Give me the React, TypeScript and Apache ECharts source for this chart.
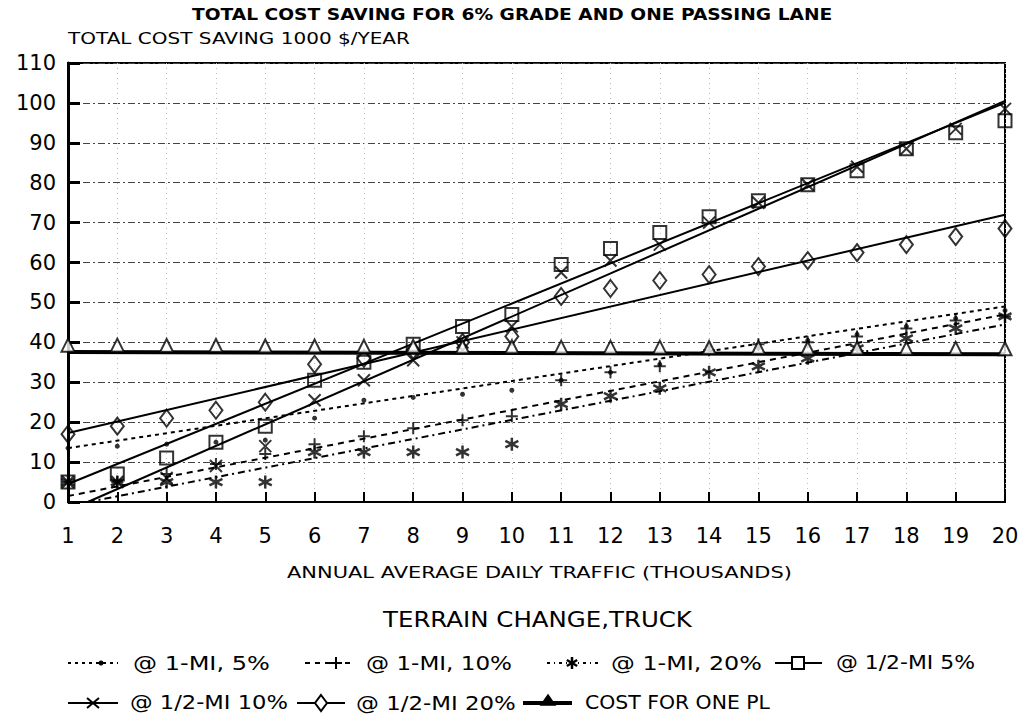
import React, { useEffect, useRef } from "react";
import * as echarts from "echarts";

// Annual average daily traffic, thousands
const trafficThousands = [1, 2, 3, 4, 5, 6, 7, 8, 9, 10, 11, 12, 13, 14, 15, 16, 17, 18, 19, 20];
const xTickLabels = ["1", "2", "3", "4", "5", "6", "7", "8", "9", "10", "11", "12", "13", "14", "15", "16", "17", "18", "19", "20"];
const yTickLabels = ["0", "10", "20", "30", "40", "50", "60", "70", "80", "90", "100", "110"];

// Total cost saving, 1000 $/year, per terrain-change case
const saving1Mi5 = [13.5, 14, 14.5, 15, 15.5, 21, 25.5, 26.2, 27, 28, 30.5, 32.5, 34.5, 39, 38.5, 40.5, 42, 44, 46, 48];
const saving1Mi10 = [5, 5, 7, 9.5, 12, 14.5, 16.5, 18.5, 20.5, 21.5, 30.5, 32.5, 34, 38, 39.5, 40, 41.5, 43.5, 45.5, 46.5];
const saving1Mi20 = [5, 5, 5, 5, 5, 12.5, 12.5, 12.5, 12.5, 14.5, 24.5, 26.5, 28.5, 32.5, 34, 36, 38.5, 41, 43.5, 46.5];
const savingHalf5 = [5, 7, 11, 15, 19, 30.5, 35, 39.5, 44, 47, 59.5, 63.5, 67.5, 71.5, 75.5, 79.5, 83, 88.5, 92.5, 95.5];
const savingHalf10 = [5, 5, 6, 9, 14, 25.5, 30.5, 35.5, 40, 44, 57.5, 60.5, 64.5, 70, 75, 79.5, 84, 88.5, 93.5, 98.5];
const savingHalf20 = [17, 19, 21, 23, 25, 34.5, 36, 38, 40, 41.5, 51.5, 53.5, 55.5, 57, 59, 60.5, 62.5, 64.5, 66.5, 68.5];
const costOnePL = [37.8, 37.8, 37.7, 37.7, 37.6, 37.6, 37.5, 37.5, 37.4, 37.4, 37.3, 37.3, 37.3, 37.2, 37.2, 37.1, 37.1, 37.0, 37.0, 36.9];

// Fitted trend lines, [traffic, saving] end points
const trend1Mi5 = [[1, 13.5], [20, 49]];
const trend1Mi10 = [[1, 1.5], [20, 47]];
const trend1Mi20 = [[1.4, 0], [20, 44.5]];
const trendHalf5 = [[1, 4.5], [20, 100]];
const trendHalf10 = [[1.4, 0], [20, 100.5]];
const trendHalf20 = [[1, 17.3], [20, 72]];
const trendCost = [[1, 37.6], [20, 37]];

const seriesNames = ["@ 1-MI, 5%", "@ 1-MI, 10%", "@ 1-MI, 20%", "@ 1/2-MI 5%", "@ 1/2-MI 10%", "@ 1/2-MI 20%", "COST FOR ONE PL"];

const titleText = "TOTAL COST SAVING FOR 6% GRADE AND ONE PASSING LANE";
const yAxisTitle = "TOTAL COST SAVING 1000 $/YEAR";
const xAxisTitle = "ANNUAL AVERAGE DAILY TRAFFIC (THOUSANDS)";
const legendTitle = "TERRAIN CHANGE,TRUCK";

const FONT = '"DejaVu Sans", "Liberation Sans", sans-serif';

const SYM_PLUS = "path://M5 0L5 10M0 5L10 5";
const SYM_CROSS = "path://M0 0L10 10M10 0L0 10";
const SYM_STAR = "path://M5 0L5 10M0.67 2.5L9.33 7.5M0.67 7.5L9.33 2.5";

function textScale(text: string, size: number, weight: string, width: number) {
  const ctx = document.createElement("canvas").getContext("2d");
  if (!ctx) return 1;
  ctx.font = `${weight} ${size}px "DejaVu Sans"`;
  const w = ctx.measureText(text).width;
  return w > 0 ? width / w : 1;
}

function stretchedText(text: string, left: number, width: number, cy: number, size: number, weight = "normal") {
  return {
    type: "text",
    x: left,
    y: cy,
    scaleX: textScale(text, size, weight, width),
    silent: true,
    style: {
      text,
      fontSize: size,
      fontFamily: FONT,
      fontWeight: weight,
      fill: "#000",
      textAlign: "left",
      verticalAlign: "middle",
      textVerticalAlign: "middle",
    },
  };
}

function seg(x1: number, y1: number, x2: number, y2: number, w = 2) {
  return { type: "line", silent: true, shape: { x1, y1, x2, y2 }, style: { stroke: "#000", lineWidth: w } };
}

function legendMarker(kind: string, cx: number, cy: number): any[] {
  const s = 6;
  switch (kind) {
    case "dot":
      return [{ type: "circle", silent: true, shape: { cx, cy, r: 2.5 }, style: { fill: "#000" } }];
    case "plus":
      return [seg(cx - s, cy, cx + s, cy), seg(cx, cy - s, cx, cy + s)];
    case "star":
      return [seg(cx, cy - s, cx, cy + s, 2.5), seg(cx - 5.2, cy - 3, cx + 5.2, cy + 3, 2.5), seg(cx - 5.2, cy + 3, cx + 5.2, cy - 3, 2.5)];
    case "square":
      return [{ type: "rect", silent: true, shape: { x: cx - 6, y: cy - 6, width: 12, height: 12 }, style: { fill: "#fff", stroke: "#000", lineWidth: 2 } }];
    case "cross":
      return [seg(cx - s, cy - 5, cx + s, cy + 5), seg(cx - s, cy + 5, cx + s, cy - 5)];
    case "diamond":
      return [{ type: "polygon", silent: true, shape: { points: [[cx, cy - 8], [cx + 6, cy], [cx, cy + 8], [cx - 6, cy]] }, style: { fill: "#fff", stroke: "#000", lineWidth: 2 } }];
    case "triangle":
      return [{ type: "polygon", silent: true, shape: { points: [[cx, cy - 8], [cx + 7, cy + 2], [cx - 7, cy + 2]] }, style: { fill: "#000", stroke: "#000", lineWidth: 1.5 } }];
    default:
      return [];
  }
}

// legend layout: row centre y, sample line span, marker x, label left and width
const legendLayout = [
  { y: 663, x1: 68, x2: 118, mx: 101, tx: 133, tw: 137, marker: "dot", line: 2, dash: [3, 4] },
  { y: 663, x1: 305, x2: 352, mx: 336, tx: 366, tw: 146, marker: "plus", line: 2, dash: [5, 5] },
  { y: 663, x1: 547, x2: 598, mx: 572, tx: 611, tw: 151, marker: "star", line: 2, dash: [3, 4, 1, 4] },
  { y: 663, x1: 775, x2: 822, mx: 798, tx: 836, tw: 139, marker: "square", line: 2, dash: null },
  { y: 703, x1: 68, x2: 118, mx: 93, tx: 130, tw: 158, marker: "cross", line: 2, dash: null },
  { y: 703, x1: 297, x2: 345, mx: 321, tx: 356, tw: 160, marker: "diamond", line: 2, dash: null },
  { y: 703, x1: 523, x2: 572, mx: 548, tx: 585, tw: 185, marker: "triangle", line: 4, dash: null },
];

function buildGraphic() {
  const els: any[] = [];
  els.push(stretchedText(titleText, 192, 641, 14, 16, "bold"));
  els.push(stretchedText(yAxisTitle, 68, 342, 38, 16));
  els.push(stretchedText(xAxisTitle, 287, 505, 573, 15));
  els.push(stretchedText(legendTitle, 383, 309, 620, 21));
  legendLayout.forEach((it, i) => {
    els.push({
      type: "line",
      silent: true,
      shape: { x1: it.x1, y1: it.y, x2: it.x2, y2: it.y },
      style: { stroke: "#000", lineWidth: it.line, lineDash: it.dash || undefined },
    });
    legendMarker(it.marker, it.mx, it.y).forEach((m) => els.push(m));
    els.push(stretchedText(seriesNames[i], it.tx, it.tw, it.y, 19));
  });
  return els;
}

function pairs(values: number[]) {
  return trafficThousands.map((x, i) => [x, values[i]]);
}

const hollow = { color: "rgba(0,0,0,0)", borderColor: "#000", borderWidth: 2 };

function trendSeries(name: string, data: number[][], width: number, dash: any) {
  return {
    type: "line",
    name: name + " trend",
    data,
    symbol: "none",
    silent: true,
    z: 2,
    lineStyle: { color: "#000", width, type: dash },
  };
}

function pointSeries(name: string, values: number[], symbol: string, size: any, itemStyle: any, extra: any = {}) {
  return {
    type: "scatter",
    name,
    data: pairs(values),
    symbol,
    symbolSize: size,
    silent: true,
    z: 3,
    itemStyle,
    ...extra,
  };
}

export default function App() {
  const ref = useRef<HTMLDivElement>(null);

  useEffect(() => {
    if (!ref.current) return;
    const chart = echarts.init(ref.current, null, { renderer: "svg" });
    chart.setOption({
      animation: false,
      backgroundColor: "#fff",
      grid: { left: 68, right: 18, top: 63, bottom: 220, show: true, borderColor: "#000", borderWidth: 2, backgroundColor: "transparent" },
      xAxis: {
        type: "value",
        min: 1,
        max: 20,
        interval: 1,
        axisLine: { show: true, lineStyle: { color: "#000", width: 2 } },
        axisTick: { show: true, inside: true, length: 10, lineStyle: { color: "#000", width: 2 } },
        axisLabel: {
          formatter: (v: number) => xTickLabels[Math.round(v) - 1] ?? "",
          fontFamily: FONT,
          fontSize: 21,
          color: "#000",
          margin: 23,
        },
        splitLine: { show: true, lineStyle: { color: "#bbb", width: 1, type: [1, 4] } },
      },
      yAxis: {
        type: "value",
        min: 0,
        max: 110,
        interval: 10,
        axisLine: { show: true, lineStyle: { color: "#000", width: 3 } },
        axisTick: { show: true, inside: true, length: 12, lineStyle: { color: "#000", width: 3 } },
        axisLabel: {
          formatter: (v: number) => yTickLabels[Math.round(v / 10)] ?? "",
          fontFamily: FONT,
          fontSize: 21,
          color: "#000",
          margin: 12,
        },
        splitLine: { show: true, lineStyle: { color: "#444", width: 1, type: [7, 3, 2, 3] } },
      },
      series: [
        trendSeries(seriesNames[0], trend1Mi5, 2, [4, 4]),
        trendSeries(seriesNames[1], trend1Mi10, 2, [6, 5]),
        trendSeries(seriesNames[2], trend1Mi20, 2, [7, 4, 2, 4]),
        trendSeries(seriesNames[3], trendHalf5, 2, "solid"),
        trendSeries(seriesNames[4], trendHalf10, 2, "solid"),
        trendSeries(seriesNames[5], trendHalf20, 2, "solid"),
        trendSeries(seriesNames[6], trendCost, 4, "solid"),
        pointSeries(seriesNames[0], saving1Mi5, "circle", 5, { color: "#000" }),
        pointSeries(seriesNames[1], saving1Mi10, SYM_PLUS, 12, hollow),
        pointSeries(seriesNames[2], saving1Mi20, SYM_STAR, 13, { color: "rgba(0,0,0,0)", borderColor: "#000", borderWidth: 2.5 }),
        pointSeries(seriesNames[3], savingHalf5, "rect", 13, hollow),
        pointSeries(seriesNames[4], savingHalf10, SYM_CROSS, 12, hollow),
        pointSeries(seriesNames[5], savingHalf20, "diamond", [13, 17], hollow),
        pointSeries(seriesNames[6], costOnePL, "triangle", 13, { color: "#fff", borderColor: "#000", borderWidth: 2 }, { symbolOffset: [0, -6] }),
      ],
      graphic: buildGraphic(),
    });
    return () => chart.dispose();
  }, []);

  return <div ref={ref} style={{ position: "absolute", left: 0, top: 0, width: 1023, height: 722 }} />;
}
